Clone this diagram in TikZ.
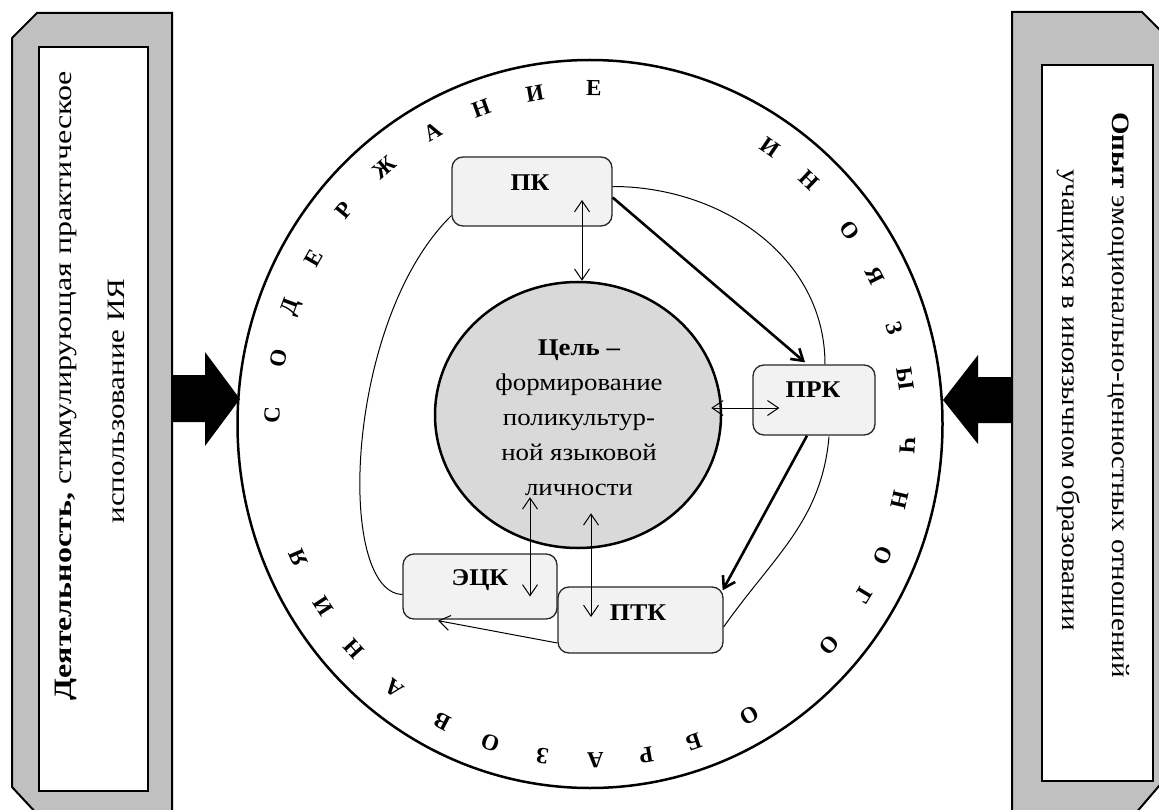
\documentclass[tikz,border=0pt]{standalone}
\usepackage{fontspec}
\setmainfont{Liberation Serif}
\usetikzlibrary{arrows.meta,calc,shapes.geometric}
\definecolor{panelgray}{HTML}{C0C0C0}
\definecolor{goalgray}{HTML}{D9D9D9}
\definecolor{boxgray}{HTML}{F2F2F2}
\newcommand{\wide}[2]{\scalebox{#1}[1]{#2}}
\begin{document}
\begin{tikzpicture}[x=1pt,y=-1pt,
  panelshape/.style={draw=black,line width=2pt,fill=panelgray,line join=miter},
  innerbox/.style={draw=black,line width=1.2pt,fill=white,inner sep=0pt,rectangle},
  comp/.style={draw=black!85,line width=1.3pt,fill=boxgray,rounded corners=11pt,inner sep=0pt,rectangle},
  comptext/.style={font=\fontsize{24}{24}\selectfont\bfseries,inner sep=0pt},
  letterstyle/.style={font=\fontsize{23}{23}\selectfont\bfseries,inner sep=0pt},
  paneltext/.style={font=\fontsize{25}{25}\selectfont,inner sep=0pt},
  thinline/.style={line width=1pt},
  dblarrow/.style={line width=1pt,{Straight Barb[length=11pt,width=15pt]}-{Straight Barb[length=11pt,width=15pt]}},
  thinarrow/.style={line width=1pt,-{Straight Barb[length=11pt,width=15pt]}},
  thickarrow/.style={line width=2.6pt,-{Straight Barb[length=11pt,width=14pt]}},
  blockarrow/.style={fill=black,draw=none}
]
\useasboundingbox (0,0) rectangle (1159,810);
% side panels
\draw[panelshape] (12,38) -- (37,13) -- (172,13) -- (172,815) -- (38,815) -- (12,787) -- cycle;
\node[innerbox,minimum width=109pt,minimum height=744pt] (leftbox) at (93.5,419) {};
\draw[panelshape] (1012,12) -- (1142,12) -- (1165,35) -- (1165,779) -- (1135,814) -- (1012,814) -- cycle;
\node[innerbox,minimum width=111pt,minimum height=716pt] (rightbox) at (1097.5,423) {};
% panel texts
\node[paneltext,rotate=90] (lt1) at (66,386) {\wide{1.28}{\textbf{Деятельность,} стимулирующая практическое}};
\node[paneltext,rotate=90] (lt2) at (116,401) {\wide{1.24}{использование ИЯ}};
\node[paneltext,rotate=-90] (rt1) at (1119,395) {\wide{1.16}{\textbf{Опыт} эмоционально-ценностных отношений}};
\node[paneltext,rotate=-90] (rt2) at (1069,400) {\wide{1.16}{учащихся в иноязычном образовании}};
% block arrows
\fill[blockarrow] (172,375) -- (205,375) -- (205,352) -- (240,399) -- (205,446) -- (205,422) -- (172,422) -- cycle;
\fill[blockarrow] (1012,377) -- (978,377) -- (978,355) -- (943,400) -- (978,444) -- (978,423) -- (1012,423) -- cycle;
% content ellipse
\node[draw,line width=2.5pt,ellipse,minimum width=705pt,minimum height=728pt,inner sep=0pt] (content) at (590,424) {};
\foreach \l/\t [count=\i] in {С/178.5,О/168.7,Д/159.6,Е/150.5,Р/140.5,Ж/130.3,А/119.7,Н/110,И/100,Е/89.3,
  И/55.5,Н/46.5,О/35.2,Я/26.2,З/16.6,Ы/7.8,Ч/-3.6,Н/-13,О/-23,Г/-30.8,О/-41.1,
  О/-60,Б/-71,Р/-79.8,А/-89,З/-98.6,О/-108.3,В/-117.7,А/-128,Н/-138,И/-147.1,Я/-156.6}
  \node[letterstyle,rotate=\t-90] (let\i) at ({590+318*cos(\t)},{424-336*sin(\t)}) {\l};
% goal
\node[draw,line width=2.5pt,fill=goalgray,ellipse,minimum width=286pt,minimum height=266pt,inner sep=0pt] (goal) at (578,415) {};
\node[font=\fontsize{24}{35}\selectfont,align=center,inner sep=0pt] (goaltext) at (579,418)
  {\wide{1.12}{\textbf{Цель –}}\\\wide{1.12}{формирование}\\\wide{1.12}{поликультур-}\\\wide{1.12}{ной языковой}\\\wide{1.12}{личности}};
% components
\node[comp,minimum width=160pt,minimum height=69pt] (pk) at (532,191.5) {};
\node[comp,minimum width=122pt,minimum height=70pt] (prk) at (814,400) {};
\node[comp,minimum width=154pt,minimum height=65pt] (ezk) at (480,586.5) {};
\node[comp,minimum width=165pt,minimum height=66pt] (ptk) at (640.5,620) {};
\node[comptext] (pkl) at (530,183) {\wide{1.08}{ПК}};
\node[comptext] (prkl) at (813,390) {\wide{1.08}{ПРК}};
\node[comptext] (ezkl) at (480,580) {\wide{1.08}{ЭЦК}};
\node[comptext] (ptkl) at (638,613) {\wide{1.08}{ПТК}};
% connectors
\draw[dblarrow] ($(pk.center)+(50,8.5)$) -- ($(goal.north)+(4,0)$);
\draw[thickarrow] ($(pk.east)+(0,6)$) -- ($(prk.north)+(-9,-2)$);
\draw[thinline] ($(pk.east)+(0,-5)$) to[out=0,in=90] ($(prk.north)+(11,0)$);
\draw[dblarrow] ($(goal.east)+(-11,-7)$) -- ($(prk.west)+(27,8)$);
\draw[thickarrow] ($(prk.south)+(-7,0)$) -- ($(ptk.north east)+(-1,4)$);
\draw[thinline] ($(prk.south)+(15,1)$) to[out=-95,in=55] ($(ptk.east)+(0,7)$);
\draw[thinarrow] ($(ptk.west)+(0,23)$) -- ($(ezk.south)+(-42,1)$);
\draw[dblarrow] ($(goal.south)+(-48,-52)$) -- ($(ezk.center)+(50,10)$);
\draw[dblarrow] ($(goal.south)+(13,-36)$) -- ($(ptk.center)+(-49.5,-3)$);
\draw[thinline] ($(ezk.west)+(0,8)$) .. controls (335,592) and (345,320) .. ($(pk.south west)+(0,-11)$);
\end{tikzpicture}
\end{document}
